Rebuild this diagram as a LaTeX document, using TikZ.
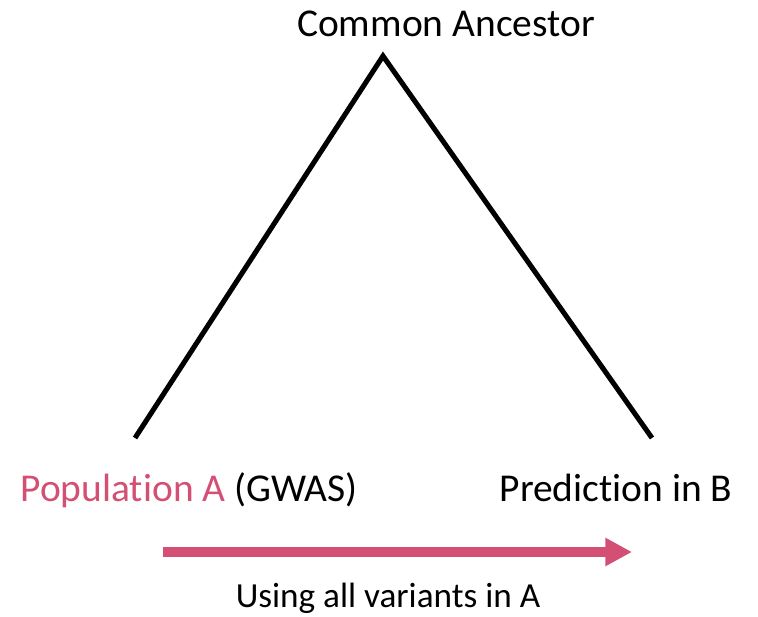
\documentclass[tikz,border=0pt]{standalone}
\usepackage{fontspec}
\setmainfont{Carlito}[Ligatures={NoCommon,NoContextual}]
\usetikzlibrary{arrows.meta, positioning}
\definecolor{rose}{HTML}{D44F74}
\tikzset{
  etiquette/.style={font=\fontsize{29.6}{35}\selectfont, inner sep=0, anchor=base},
  legende/.style={font=\fontsize{26.4}{31}\selectfont, inner sep=0, anchor=base},
  branche/.style={line width=3.8pt, color=black, line join=miter},
  fleche/.style={-{Triangle[length=20pt, width=20pt]}, line width=7pt, color=rose}
}
\begin{document}
\begin{tikzpicture}[x=0.75pt, y=-0.75pt]
  \useasboundingbox (0,0) rectangle (758,617);
  % arbre
  \coordinate (racine) at (383,56);
  \coordinate (feuilleA) at (135,438);
  \coordinate (feuilleB) at (652,438);
  \draw[branche] (feuilleA) -- (racine) -- (feuilleB);

  \node[etiquette] (ancetre) at (446,37) {Common Ancestor};
  \node[etiquette] (popA) at (189,501) {\textcolor{rose}{Population A} (GWAS)};
  \node[etiquette] (predB) at (616,501) {Prediction in B};

  % transfert
  \coordinate (depart) at (163,552);
  \coordinate (arrivee) at (632,552);
  \draw[fleche] (depart) -- (arrivee);
  \node[legende] (usage) at (388,607) {Using all variants in A};
\end{tikzpicture}
\end{document}
